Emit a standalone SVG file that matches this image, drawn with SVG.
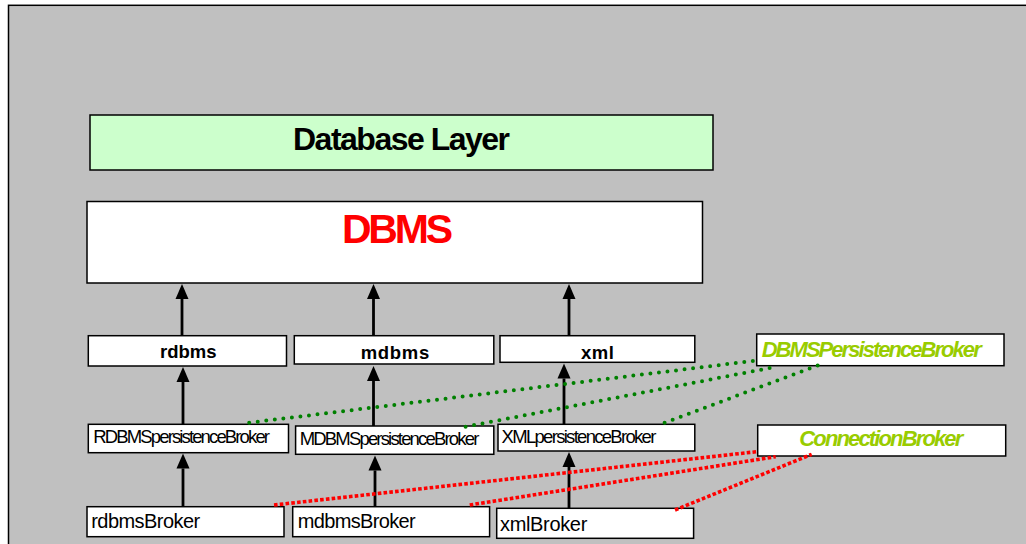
<svg xmlns="http://www.w3.org/2000/svg" width="1026" height="544" viewBox="0 0 1026 544">
  <style>
    .box { fill: #ffffff; stroke: #000000; stroke-width: 1.5; }
    .layer { fill: #ccffcc; stroke: #000000; stroke-width: 1.5; }
    .t { font-family: "Liberation Sans", Arial, sans-serif; fill: #000000; }
    .b { font-weight: bold; }
    .role { font-family: "Liberation Sans", Arial, sans-serif; font-weight: bold; font-style: italic; font-size: 22px; fill: #99cc00; }
    .dep { stroke: #000000; stroke-width: 2.8; fill: none; marker-end: url(#head); }
    .pers { stroke: #008000; stroke-width: 4; stroke-linecap: round; stroke-dasharray: 0 8.6; fill: none; }
    .conn { stroke: #ff0000; stroke-width: 3.6; stroke-dasharray: 3.6 2.2; fill: none; }
  </style>
  <defs>
    <marker id="head" markerUnits="userSpaceOnUse" markerWidth="16" markerHeight="14" refX="0" refY="6.5" orient="auto" overflow="visible">
      <path d="M0,0 L15,6.5 L0,13 Z" fill="#000000"/>
    </marker>
  </defs>

  <!-- background panel -->
  <rect x="0" y="0" width="1026" height="544" fill="#ffffff"/>
  <rect id="panel" x="8.5" y="5.3" width="1030" height="550" fill="#c0c0c0" stroke="#000000" stroke-width="1.5"/>

  <g id="database-layer">
    <rect class="layer" x="90" y="115" width="623" height="55"/>
    <text class="t b" x="401.5" y="150" font-size="32" text-anchor="middle" textLength="217" lengthAdjust="spacing">Database Layer</text>
  </g>

  <g id="dbms">
    <rect class="box" x="87" y="201.5" width="615.5" height="81.5"/>
    <text class="t b" x="397.5" y="242.7" font-size="41" fill="#ff0000" style="fill:#ff0000" text-anchor="middle" textLength="111" lengthAdjust="spacing">DBMS</text>
  </g>

  <g id="rdbms">
    <rect class="box" x="88.3" y="335.7" width="198.2" height="30.3"/>
    <text class="t b" x="188.3" y="357.5" font-size="18.5" text-anchor="middle" textLength="56.5" lengthAdjust="spacing">rdbms</text>
  </g>
  <g id="mdbms">
    <rect class="box" x="294.3" y="335.7" width="199.5" height="28.3"/>
    <text class="t b" x="395" y="358.5" font-size="18.5" text-anchor="middle" textLength="68.5" lengthAdjust="spacing">mdbms</text>
  </g>
  <g id="xml">
    <rect class="box" x="500" y="335.7" width="194.8" height="26.6"/>
    <text class="t b" x="597.4" y="358.5" font-size="18.5" text-anchor="middle" textLength="33" lengthAdjust="spacing">xml</text>
  </g>

  <g id="rdbms-persistence-broker">
    <rect class="box" x="88.3" y="424.3" width="200.2" height="28.4"/>
    <text class="t" x="93.3" y="443.3" font-size="18.5" textLength="176.7" lengthAdjust="spacing">RDBMSpersistenceBroker</text>
  </g>
  <g id="mdbms-persistence-broker">
    <rect class="box" x="295.6" y="426" width="198.2" height="28.3"/>
    <text class="t" x="299.7" y="444.8" font-size="18.5" textLength="179.6" lengthAdjust="spacing">MDBMSpersistenceBroker</text>
  </g>
  <g id="xml-persistence-broker">
    <rect class="box" x="498" y="424.3" width="196.8" height="26.7"/>
    <text class="t" x="501.6" y="442.7" font-size="18.5" textLength="154.7" lengthAdjust="spacing">XMLpersistenceBroker</text>
  </g>

  <g id="rdbms-broker">
    <rect class="box" x="87" y="506.7" width="197" height="30"/>
    <text class="t" x="91.2" y="528.3" font-size="20" textLength="109" lengthAdjust="spacing">rdbmsBroker</text>
  </g>
  <g id="mdbms-broker">
    <rect class="box" x="292.7" y="506.7" width="196.9" height="30"/>
    <text class="t" x="297.7" y="528.3" font-size="20" textLength="118" lengthAdjust="spacing">mdbmsBroker</text>
  </g>
  <g id="xml-broker">
    <rect class="box" x="496.7" y="508.3" width="196.9" height="30"/>
    <text class="t" x="500" y="530.7" font-size="20" textLength="87.3" lengthAdjust="spacing">xmlBroker</text>
  </g>

  <g id="dbms-persistence-broker">
    <rect class="box" x="756.7" y="334" width="247.3" height="31.7"/>
    <text class="role" x="761.7" y="356.7" textLength="220" lengthAdjust="spacing">DBMSPersistenceBroker</text>
  </g>
  <g id="connection-broker">
    <rect class="box" x="757.7" y="425" width="248" height="31"/>
    <text class="role" x="799.3" y="446" textLength="164" lengthAdjust="spacing">ConnectionBroker</text>
  </g>

  <g id="connectors">
    <!-- dependency arrows (line ends at arrowhead base) -->
    <line class="dep" x1="182" y1="335.7" x2="182" y2="299"/>
    <line class="dep" x1="373.5" y1="335.7" x2="373.5" y2="299"/>
    <line class="dep" x1="569" y1="335.7" x2="569" y2="299"/>

    <line class="dep" x1="183" y1="424.3" x2="183" y2="382"/>
    <line class="dep" x1="373.5" y1="426" x2="373.5" y2="381"/>
    <line class="dep" x1="564" y1="424.3" x2="564" y2="378.5"/>

    <line class="dep" x1="183" y1="506.7" x2="183" y2="468.5"/>
    <line class="dep" x1="375" y1="506.7" x2="375" y2="470.5"/>
    <line class="dep" x1="569" y1="508.3" x2="569" y2="467"/>

    <!-- persistence broker realisations -->
    <line class="pers" x1="249.2" y1="422.7" x2="755" y2="360.7"/>
    <line class="pers" x1="465.6" y1="426.7" x2="771.7" y2="367.7"/>
    <line class="pers" x1="664.6" y1="422.7" x2="821" y2="364.3"/>

    <!-- connection broker realisations -->
    <line class="conn" x1="274" y1="505" x2="756.7" y2="451.7"/>
    <line class="conn" x1="469.7" y1="505" x2="775.7" y2="456.7"/>
    <line class="conn" x1="675" y1="510" x2="811.7" y2="454.3"/>
  </g>
</svg>
